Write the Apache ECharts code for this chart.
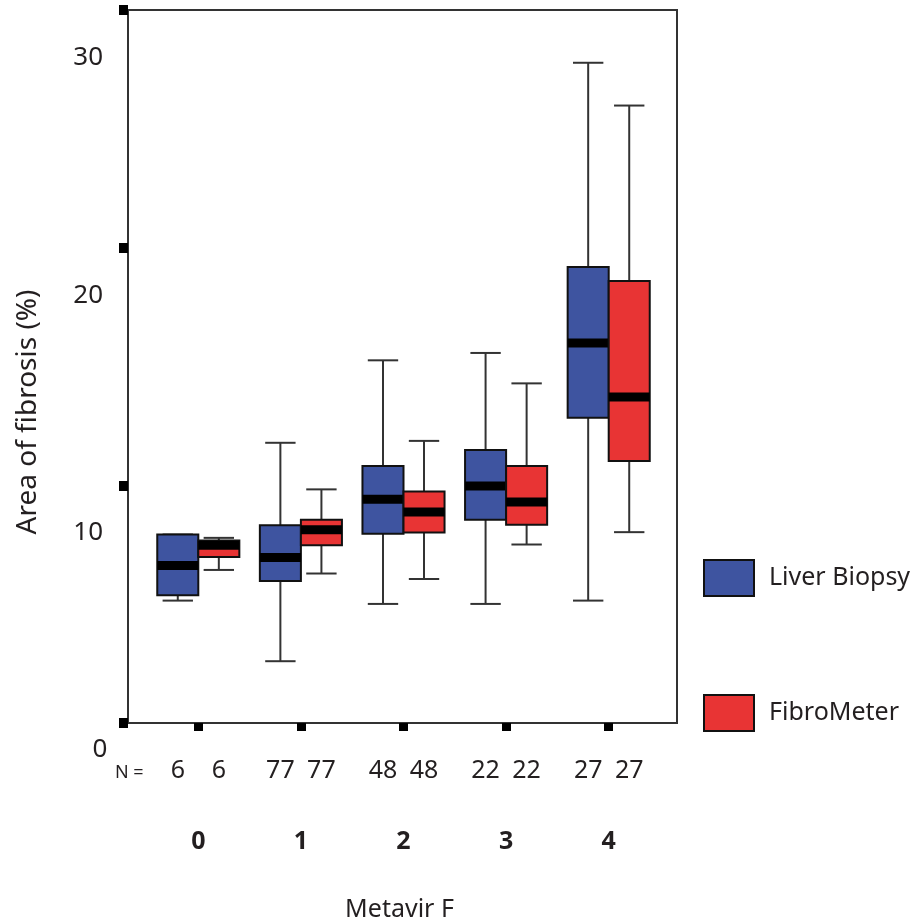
<!DOCTYPE html>
<html>
<head>
<meta charset="utf-8">
<script src="https://cdn.jsdelivr.net/npm/echarts@6/dist/echarts.min.js"></script>
<style>
  html, body { margin: 0; padding: 0; background: #fff; }
  #chart { width: 918px; height: 919px; }
</style>
</head>
<body>
<div id="chart"></div>
<script>
// Metavir F stages
const categories = ["0", "1", "2", "3", "4"];
const nBiopsy = [6, 77, 48, 22, 27];
const nFibro = [6, 77, 48, 22, 27];
// [min, q1, median, q3, max] - area of fibrosis (%)
const biopsyStats = [
  [7.15, 7.38, 8.63, 9.93, 9.93],
  [4.6, 7.97, 8.96, 10.32, 13.79],
  [7.01, 9.96, 11.41, 12.81, 17.26],
  [7.01, 10.55, 11.97, 13.49, 17.57],
  [7.15, 14.84, 17.99, 21.19, 29.78],
];
const fibroStats = [
  [8.44, 8.98, 9.48, 9.68, 9.79],
  [8.29, 9.48, 10.13, 10.55, 11.83],
  [8.06, 10.02, 10.88, 11.74, 13.87],
  [9.51, 10.34, 11.3, 12.81, 16.29],
  [10.03, 13.02, 15.72, 20.6, 27.98],
];
const yTickValues = [2, 12, 22, 32];
const yLabelValues = [10, 20, 30];

const FONT = "Noto Sans";
const TEXT = "#231f20";
const BLUE = "#3e54a0";
const RED = "#e83434";

function toRows(stats) {
  return stats.map((s, i) => [i].concat(s));
}

// side: -1 left of the tick, +1 right of the tick
function boxRenderer(side) {
  return function (params, api) {
    const cat = api.value(0);
    const pMin = api.coord([cat, api.value(1)]);
    const pQ1 = api.coord([cat, api.value(2)]);
    const pMed = api.coord([cat, api.value(3)]);
    const pQ3 = api.coord([cat, api.value(4)]);
    const pMax = api.coord([cat, api.value(5)]);
    const band = api.size([1, 0])[0];
    const boxW = band * 0.4;
    const capW = boxW * 0.74;
    const cx = pMin[0] + (side * boxW) / 2;
    const x0 = cx - boxW / 2;
    const line = { stroke: "#333", lineWidth: 2 };
    return {
      type: "group",
      children: [
        { type: "line", shape: { x1: cx, y1: pMax[1], x2: cx, y2: pQ3[1] }, style: line },
        { type: "line", shape: { x1: cx - capW / 2, y1: pMax[1], x2: cx + capW / 2, y2: pMax[1] }, style: line },
        { type: "line", shape: { x1: cx, y1: pQ1[1], x2: cx, y2: pMin[1] }, style: line },
        { type: "line", shape: { x1: cx - capW / 2, y1: pMin[1], x2: cx + capW / 2, y2: pMin[1] }, style: line },
        {
          type: "rect",
          shape: { x: x0, y: pQ3[1], width: boxW, height: pQ1[1] - pQ3[1] },
          style: { fill: api.visual("color"), stroke: "#111", lineWidth: 2 },
        },
        {
          type: "rect",
          shape: { x: x0, y: pMed[1] - 4.5, width: boxW, height: 9 },
          style: { fill: "#000" },
        },
      ],
    };
  };
}

const chart = echarts.init(document.getElementById("chart"));

const option = {
  backgroundColor: "#fff",
  animation: false,
  textStyle: { fontFamily: FONT, color: TEXT },
  grid: [
    // frame
    { left: 128, top: 10, width: 549, height: 713, outerBoundsMode: "none", show: true, borderColor: "#333", borderWidth: 2 },
    // boxes
    { left: 147, top: 10, width: 513, height: 713, outerBoundsMode: "none" },
  ],
  legend: {
    orient: "vertical",
    left: 698,
    top: 554,
    itemWidth: 50,
    itemHeight: 36,
    itemGap: 97,
    icon: "rect",
    textStyle: { fontFamily: FONT, fontSize: 25, color: TEXT, padding: [0, 0, 0, 10] },
    data: [
      { name: "Liver Biopsy", itemStyle: { color: BLUE, borderColor: "#111", borderWidth: 2 } },
      { name: "FibroMeter", itemStyle: { color: RED, borderColor: "#111", borderWidth: 2 } },
    ],
  },
  xAxis: [
    { gridIndex: 0, type: "value", min: 0, max: 1, show: false },
    {
      gridIndex: 1,
      type: "category",
      data: categories,
      axisLine: { show: true, lineStyle: { color: "#000", opacity: 0 } },
      axisTick: { show: true, alignWithLabel: true, length: 8, lineStyle: { width: 9, color: "#000", opacity: 1 } },
      axisLabel: {
        margin: 35,
        formatter: (v, i) => "{n|" + nBiopsy[i] + "}{n|" + nFibro[i] + "}",
        rich: { n: { width: 41, align: "center", fontFamily: FONT, fontSize: 25, color: TEXT } },
      },
      splitLine: { show: false },
    },
    {
      gridIndex: 1,
      type: "category",
      data: categories,
      position: "bottom",
      axisLine: { show: false },
      axisTick: { show: false },
      axisLabel: { margin: 106, fontFamily: FONT, fontSize: 25, fontWeight: "bold", color: TEXT },
      name: "Metavir F",
      nameLocation: "middle",
      nameGap: 174,
      nameTextStyle: { fontFamily: FONT, fontSize: 25, color: TEXT, padding: [0, 8, 0, 0] },
    },
  ],
  yAxis: [
    {
      gridIndex: 0,
      type: "value",
      min: 2,
      max: 32,
      axisLine: { show: false },
      axisTick: { show: true, customValues: yTickValues, length: 9, lineStyle: { width: 10, color: "#000" } },
      axisLabel: { customValues: yLabelValues, margin: 25, fontFamily: FONT, fontSize: 26, color: TEXT },
      splitLine: { show: false },
    },
    { gridIndex: 1, type: "value", min: 2, max: 32, show: false },
  ],
  graphic: [
    { type: "text", x: 100, y: 750, style: { text: "0", font: "26px " + FONT, fill: TEXT, align: "center", verticalAlign: "middle" } },
    { type: "text", x: 115, y: 773, style: { text: "N =", font: "18px " + FONT, fill: TEXT, align: "left", verticalAlign: "middle" } },
    {
      type: "text",
      x: 28,
      y: 412,
      rotation: Math.PI / 2,
      style: { text: "Area of fibrosis (%)", font: "28px " + FONT, fill: TEXT, align: "center", verticalAlign: "middle" },
    },
  ],
  series: [
    {
      name: "Liver Biopsy",
      type: "custom",
      xAxisIndex: 1,
      yAxisIndex: 1,
      itemStyle: { color: BLUE },
      renderItem: boxRenderer(-1),
      encode: { x: 0, y: [1, 2, 3, 4, 5] },
      data: toRows(biopsyStats),
    },
    {
      name: "FibroMeter",
      type: "custom",
      xAxisIndex: 1,
      yAxisIndex: 1,
      itemStyle: { color: RED },
      renderItem: boxRenderer(1),
      encode: { x: 0, y: [1, 2, 3, 4, 5] },
      data: toRows(fibroStats),
    },
  ],
};

chart.setOption(option);
</script>
</body>
</html>
